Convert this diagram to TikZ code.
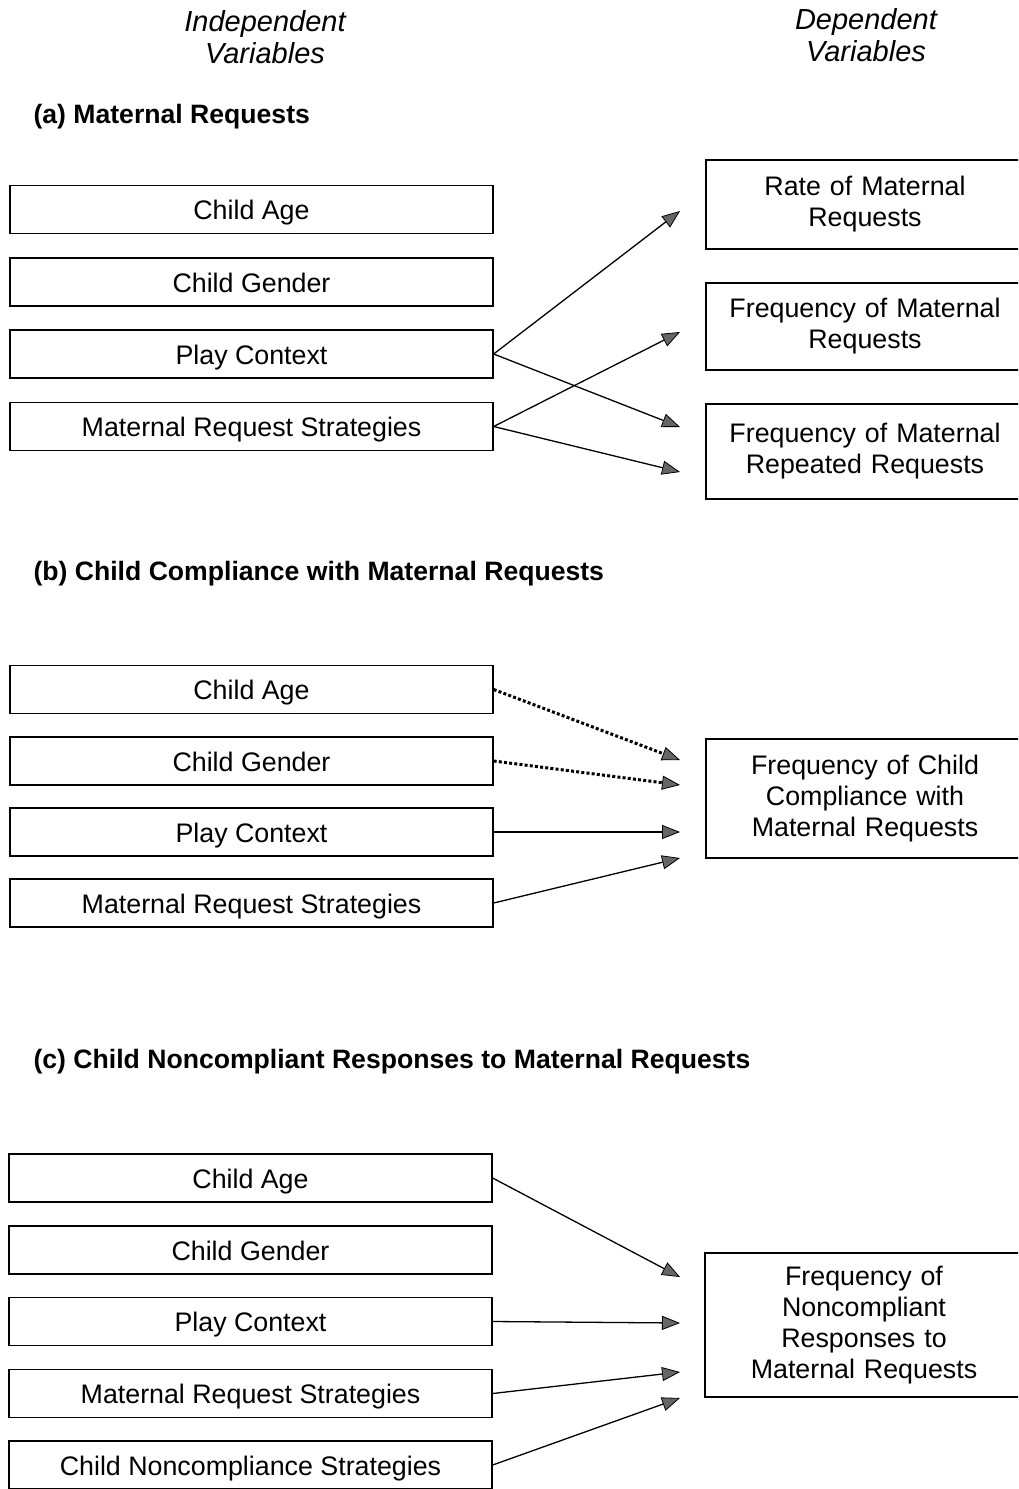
\documentclass[tikz,border=0pt]{standalone}
\usepackage{fontspec}
\setmainfont{Liberation Sans}
\usetikzlibrary{arrows.meta}
\tikzset{
  varbox/.style={draw, line width=1.3pt, minimum width=483pt, minimum height=48pt, inner sep=0pt, text height=20pt, text depth=0pt, font=\fontsize{26.8}{31}\selectfont},
  outbox/.style={draw, line width=1.3pt, minimum width=318pt, text width=300pt, align=center, inner sep=0pt, font=\fontsize{26.8}{31}\selectfont},
  head/.style={anchor=west, font=\bfseries\fontsize{26.6}{31}\selectfont},
  coltitle/.style={align=center, font=\itshape\fontsize{29}{32}\selectfont},
  link/.style={line width=1.3pt, -{Triangle[length=18pt,width=14pt,line width=0.8pt,fill=black!60]}},
  weak/.style={link, line width=3pt, dash pattern=on 3pt off 2.2pt},
}
\begin{document}
\begin{tikzpicture}[x=1pt,y=-1pt]
\clip (0,0) rectangle (1018,1489);
\fill[white] (0,0) rectangle (1018,1489);

\node[coltitle] (indep) at (265,37) {Independent\\Variables};
\node[coltitle] (dep) at (866,35) {Dependent\\Variables};

% (a)
\node[head] (ha) at (30,117) {(a) Maternal Requests};
\node[varbox] (a1) at (251.5,209.5) {Child Age};
\node[varbox] (a2) at (251.5,282) {Child Gender};
\node[varbox] (a3) at (251.5,354) {Play Context};
\node[varbox] (a4) at (251.5,426.5) {Maternal Request Strategies};
\node[outbox, minimum height=89pt] (ra) at (865,204.5) {Rate of Maternal\\Requests};
\node[outbox, minimum height=87pt] (fa) at (865,326.5) {Frequency of Maternal\\Requests};
\node[outbox, minimum height=95pt] (pa) at (865,451.5) {Frequency of Maternal\\Repeated Requests};
\coordinate (ra-in) at (680,211);
\coordinate (fa-in) at (680,332);
\coordinate (pa-in1) at (680,427);
\coordinate (pa-in2) at (680,472);
\draw[link] (a3.east) -- (ra-in);
\draw[link] (a3.east) -- (pa-in1);
\draw[link] (a4.east) -- (fa-in);
\draw[link] (a4.east) -- (pa-in2);

% (b)
\node[head] (hb) at (30,574) {(b) Child Compliance with Maternal Requests};
\node[varbox] (b1) at (251.5,689.5) {Child Age};
\node[varbox] (b2) at (251.5,761) {Child Gender};
\node[varbox] (b3) at (251.5,832) {Play Context};
\node[varbox] (b4) at (251.5,903) {Maternal Request Strategies};
\node[outbox, minimum height=119pt] (cb) at (865,798.5) {Frequency of Child\\Compliance with\\Maternal Requests};
\coordinate (cb-in1) at (680,760);
\coordinate (cb-in2) at (680,785);
\coordinate (cb-in3) at (680,832);
\coordinate (cb-in4) at (680,858);
\draw[weak] (b1.east) -- (cb-in1);
\draw[weak] (b2.east) -- (cb-in2);
\draw[link] (b3.east) -- (cb-in3);
\draw[link] (b4.east) -- (cb-in4);

% (c)
\node[head] (hc) at (30,1062) {(c) Child Noncompliant Responses to Maternal Requests};
\node[varbox] (c1) at (250.5,1178) {Child Age};
\node[varbox] (c2) at (250.5,1250) {Child Gender};
\node[varbox] (c3) at (250.5,1321.5) {Play Context};
\node[varbox] (c4) at (250.5,1393.5) {Maternal Request Strategies};
\node[varbox] (c5) at (250.5,1465) {Child Noncompliance Strategies};
\node[outbox, minimum height=144pt] (nc) at (864,1325) {Frequency of\\Noncompliant\\Responses to\\Maternal Requests};
\coordinate (nc-in1) at (680,1277);
\coordinate (nc-in2) at (680,1323);
\coordinate (nc-in3) at (680,1372);
\coordinate (nc-in4) at (680,1398);
\draw[link] (c1.east) -- (nc-in1);
\draw[link] (c3.east) -- (nc-in2);
\draw[link] (c4.east) -- (nc-in3);
\draw[link] (c5.east) -- (nc-in4);
\end{tikzpicture}
\end{document}
